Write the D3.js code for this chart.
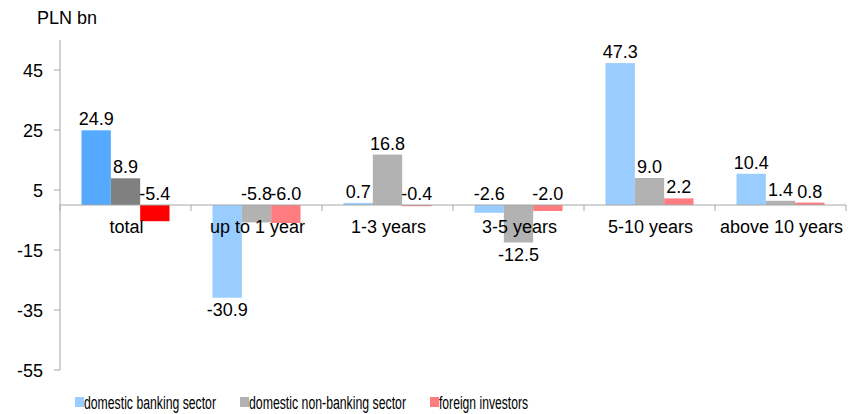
<!DOCTYPE html>
<html>
<head>
<meta charset="utf-8">
<script src="https://cdn.jsdelivr.net/npm/d3@7"></script>
<style>
  body { margin: 0; background: #fff; }
  text { font-family: "Liberation Sans", Arial, sans-serif; fill: #000; font-size: 18px; }
</style>
</head>
<body>
<svg id="chart" width="859" height="414"></svg>
<script>
// dane
var categories = ["total", "up to 1 year", "1-3 years", "3-5 years", "5-10 years", "above 10 years"];
var seriesNames = ["domestic banking sector", "domestic non-banking sector", "foreign investors"];
var banking = [24.9, -30.9, 0.7, -2.6, 47.3, 10.4];
var nonBanking = [8.9, -5.8, 16.8, -12.5, 9.0, 1.4];
var foreign = [-5.4, -6.0, -0.4, -2.0, 2.2, 0.8];
var yTicks = [45, 25, 5, -15, -35, -55];

var colors = ["#99ccff", "#b2b2b2", "#ff7c80"];
var totalColors = ["#55aaff", "#808080", "#ff0000"]; // grupa "total" wyrozniona

var svg = d3.select("#chart");

// skale
var x = d3.scaleBand()
  .domain(categories)
  .range([60, 846]);

var x1 = d3.scaleBand()
  .domain([0, 1, 2])
  .range([21.5, x.bandwidth() - 21.5]);

var y = d3.scaleLinear()
  .domain([-55, 55])
  .range([370, 40]);

// os Y
svg.append("line")
  .attr("x1", 60).attr("x2", 60)
  .attr("y1", y(55)).attr("y2", y(-55))
  .attr("stroke", "#a6a6a6");

yTicks.forEach(function(t) {
  svg.append("line")
    .attr("x1", 54).attr("x2", 60)
    .attr("y1", y(t)).attr("y2", y(t))
    .attr("stroke", "#a6a6a6");
  svg.append("text")
    .attr("x", 43)
    .attr("y", y(t) + 6.5)
    .attr("text-anchor", "end")
    .text(t);
});

svg.append("text")
  .attr("x", 37).attr("y", 24)
  .text("PLN bn");

// slupki
var series = [banking, nonBanking, foreign];
var rows = [];
categories.forEach(function(c, i) {
  series.forEach(function(s, j) {
    rows.push({ cat: c, idx: i, s: j, v: s[i] });
  });
});

svg.selectAll("rect.bar")
  .data(rows)
  .enter()
  .append("rect")
  .attr("class", "bar")
  .attr("x", function(d) { return x(d.cat) + x1(d.s); })
  .attr("width", x1.bandwidth())
  .attr("y", function(d) { return y(Math.max(0, d.v)); })
  .attr("height", function(d) { return Math.abs(y(d.v) - y(0)); })
  .attr("fill", function(d) { return d.idx === 0 ? totalColors[d.s] : colors[d.s]; });

// os X (na zerze)
svg.append("line")
  .attr("x1", 60).attr("x2", 846)
  .attr("y1", y(0)).attr("y2", y(0))
  .attr("stroke", "#a6a6a6");

d3.range(categories.length + 1).forEach(function(i) {
  var xx = 60 + i * x.bandwidth();
  svg.append("line")
    .attr("x1", xx).attr("x2", xx)
    .attr("y1", y(0)).attr("y2", y(0) + 6)
    .attr("stroke", "#a6a6a6");
});

svg.selectAll("text.cat")
  .data(categories)
  .enter()
  .append("text")
  .attr("class", "cat")
  .attr("x", function(d) { return x(d) + x.bandwidth() / 2 + 1; })
  .attr("y", y(0) + 28)
  .attr("text-anchor", "middle")
  .text(function(d) { return d; });

// etykiety wartosci
svg.selectAll("text.val")
  .data(rows)
  .enter()
  .append("text")
  .attr("class", "val")
  .attr("x", function(d) { return x(d.cat) + x1(d.s) + x1.bandwidth() / 2; })
  .attr("y", function(d) {
    if (d.v > -10) return y(Math.max(0, d.v)) - 5;
    return y(d.v) + 18;
  })
  .attr("text-anchor", "middle")
  .text(function(d) { return d.v.toFixed(1); });

// legenda (tekst zwezony jak w oryginale)
var legX = [75, 240, 430];
var legW = [132, 157, 89];
seriesNames.forEach(function(n, i) {
  svg.append("rect")
    .attr("x", legX[i]).attr("y", 397)
    .attr("width", 9).attr("height", 10)
    .attr("fill", colors[i]);
  svg.append("text")
    .attr("x", legX[i] + 9).attr("y", 409)
    .attr("textLength", legW[i])
    .attr("lengthAdjust", "spacingAndGlyphs")
    .text(n);
});
</script>
</body>
</html>
